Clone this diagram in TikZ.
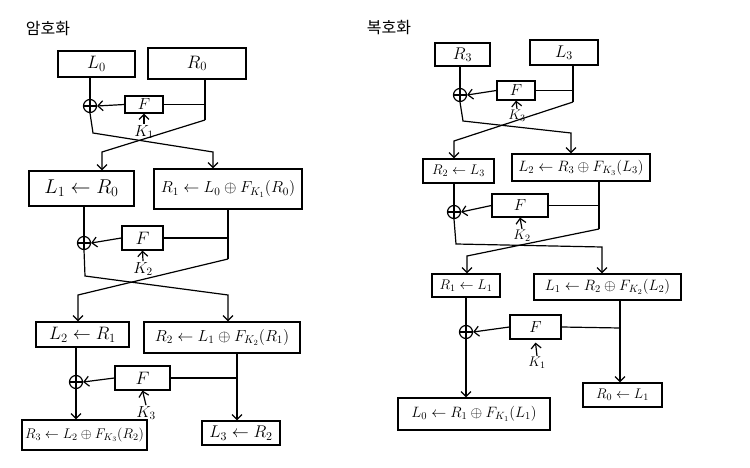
\RequirePackage{fix-cm}
\documentclass[tikz,border=0pt]{standalone}
\usepackage{fontspec}
\newfontfamily\kr{Noto Sans CJK KR}
\usetikzlibrary{arrows.meta}
\tikzset{
  bx/.style={draw, line width=1.2pt, inner sep=0pt, font=\fontsize{15}{17}\selectfont},
  sbx/.style={bx, font=\fontsize{14}{16}\selectfont},
  bgx/.style={bx, font=\fontsize{18}{20}\selectfont},
  fb/.style={draw, line width=1.2pt, inner sep=0pt, font=\fontsize{18}{20}\selectfont},
  sfb/.style={fb, font=\fontsize{16}{18}\selectfont},
  xr/.style={circle, draw, line width=1.2pt, minimum size=13pt, inner sep=0pt,
    path picture={\draw[line width=1.2pt] (path picture bounding box.north) -- (path picture bounding box.south)
      (path picture bounding box.west) -- (path picture bounding box.east);}},
  ln/.style={line width=1.2pt},
  ar/.style={line width=1.2pt, -{Straight Barb[length=5pt,width=10pt]}},
  kl/.style={font=\fontsize{16}{18}\selectfont, inner sep=1pt},
  skl/.style={font=\fontsize{14}{16}\selectfont, inner sep=1pt},
  ttl/.style={font=\kr\fontsize{16}{18}\selectfont, inner sep=0pt}
}
\begin{document}
\begin{tikzpicture}[x=1pt,y=-1pt]
\fill[white] (0,0) rectangle (750,468);
\useasboundingbox (0,0) rectangle (750,468);

% ===== Encryption =====
\node[ttl] (T1) at (48,29) {암호화};
\node[bgx, minimum width=77pt, minimum height=26pt] (L0) at (96.5,64) {$L_0$};
\node[bgx, minimum width=98pt, minimum height=31pt] (R0) at (197,63.5) {$R_0$};

\node[xr] (X1) at (90,106) {};
\node[sfb, minimum width=38pt, minimum height=17pt] (F1) at (144,104.5) {$F$};
\node[kl] (K1) at (144,132) {$K_1$};
\coordinate (r0a) at (205,120);
\draw[ln] (L0.south -| X1) -- (X1.north);
\draw[ln] (R0.south -| r0a) -- (r0a);
\draw[ln] (F1.east) -- (F1.east -| r0a);
\draw[ar] (F1.west) -- (X1.east);
\draw[ar] (K1.north) -- (F1.south);

\node[bx, font=\fontsize{20}{22}\selectfont, minimum width=105pt, minimum height=35pt] (L1) at (81.5,188.5) {$L_1 \leftarrow R_0$};
\node[bx, font=\fontsize{16}{18}\selectfont, minimum width=148pt, minimum height=40pt] (R1) at (228,189) {$R_1 \leftarrow L_0 \oplus F_{K_1}(R_0)$};
\coordinate (c1a) at (93,133);
\coordinate (c1b) at (213,152);
\coordinate (c1c) at (102,152);
\draw[ar] (X1.south) -- (c1a) -- (c1b) -- (c1b |- R1.north);
\draw[ar] (r0a) -- (c1c) -- (c1c |- L1.north);

\node[xr] (X2) at (84,243) {};
\node[fb, minimum width=41pt, minimum height=24pt] (F2) at (142.5,238) {$F$};
\node[kl] (K2) at (143,269) {$K_2$};
\coordinate (r1a) at (228,259);
\draw[ln] (L1.south -| X2) -- (X2.north);
\draw[ln] (R1.south -| r1a) -- (r1a);
\draw[ln] (F2.east) -- (F2.east -| r1a);
\draw[ar] (F2.west) -- (X2.east);
\draw[ar] (K2.north) -- (F2.south);

\node[bgx, minimum width=93pt, minimum height=25pt] (L2) at (82.5,334.5) {$L_2 \leftarrow R_1$};
\node[bx, font=\fontsize{16}{18}\selectfont, minimum width=156pt, minimum height=31pt] (R2) at (222,337.5) {$R_2 \leftarrow L_1 \oplus F_{K_2}(R_1)$};
\coordinate (c2a) at (85,276);
\coordinate (c2b) at (228,295);
\coordinate (c2c) at (78,295);
\draw[ar] (X2.south) -- (c2a) -- (c2b) -- (c2b |- R2.north);
\draw[ar] (r1a) -- (c2c) -- (c2c |- L2.north);

\node[xr] (X3) at (76,382) {};
\node[fb, minimum width=55pt, minimum height=24pt] (F3) at (142.5,378) {$F$};
\node[kl] (K3) at (146,413) {$K_3$};
\node[bx, font=\fontsize{14}{16}\selectfont, minimum width=125pt, minimum height=30pt] (R3) at (84.5,435) {$R_3 \leftarrow L_2 \oplus F_{K_3}(R_2)$};
\node[bx, font=\fontsize{17}{19}\selectfont, minimum width=78pt, minimum height=24pt] (L3) at (241,433) {$L_3 \leftarrow R_2$};
\coordinate (r2x) at (237,378);
\draw[ln] (L2.south -| X3) -- (X3.north);
\draw[ar] (R2.south -| r2x) -- (L3.north -| r2x);
\draw[ln] (F3.east) -- (r2x);
\draw[ar] (F3.west) -- (X3.east);
\draw[ar] (K3.north) -- (F3.south);
\draw[ar] (X3.south) -- (X3.south |- R3.north);

% ===== Decryption =====
\node[ttl] (T2) at (389,28) {복호화};
\node[bx, font=\fontsize{17}{19}\selectfont, minimum width=55pt, minimum height=23pt] (R3r) at (462.5,54.5) {$R_3$};
\node[bx, font=\fontsize{17}{19}\selectfont, minimum width=68pt, minimum height=25pt] (L3r) at (564,52.5) {$L_3$};

\node[xr] (X1r) at (460,95) {};
\node[sfb, minimum width=38pt, minimum height=19pt] (F1r) at (516,90.5) {$F$};
\node[skl] (K3r) at (517,116) {$K_3$};
\coordinate (l3a) at (573,102);
\draw[ln] (R3r.south -| X1r) -- (X1r.north);
\draw[ln] (L3r.south -| l3a) -- (l3a);
\draw[ln] (F1r.east) -- (F1r.east -| l3a);
\draw[ar] (F1r.west) -- (X1r.east);
\draw[ar] (K3r.north) -- (F1r.south);

\node[sbx, minimum width=71pt, minimum height=24pt] (R2r) at (458.5,171) {$R_2 \leftarrow L_3$};
\node[bx, minimum width=138pt, minimum height=27pt] (L2r) at (581,167.5) {$L_2 \leftarrow R_3 \oplus F_{K_3}(L_3)$};
\coordinate (d1a) at (463,121);
\coordinate (d1b) at (571,133);
\coordinate (d1c) at (454,141);
\draw[ar] (X1r.south) -- (d1a) -- (d1b) -- (d1b |- L2r.north);
\draw[ar] (l3a) -- (d1c) -- (d1c |- R2r.north);

\node[xr] (X2r) at (454,212) {};
\node[sfb, minimum width=56pt, minimum height=23pt] (F2r) at (520,205.5) {$F$};
\node[skl] (K2r) at (522,236) {$K_2$};
\coordinate (l2a) at (599,229);
\draw[ln] (R2r.south -| X2r) -- (X2r.north);
\draw[ln] (L2r.south -| l2a) -- (l2a);
\draw[ln] (F2r.east) -- (F2r.east -| l2a);
\draw[ar] (F2r.west) -- (X2r.east);
\draw[ar] (K2r.north) -- (F2r.south);

\node[sbx, minimum width=68pt, minimum height=23pt] (R1r) at (466,285.5) {$R_1 \leftarrow L_1$};
\node[bx, minimum width=147pt, minimum height=26pt] (L1r) at (607.5,287) {$L_1 \leftarrow R_2 \oplus F_{K_2}(L_2)$};
\coordinate (d2a) at (456,244);
\coordinate (d2b) at (602,247);
\coordinate (d2c) at (467,256);
\draw[ar] (X2r.south) -- (d2a) -- (d2b) -- (d2b |- L1r.north);
\draw[ar] (l2a) -- (d2c) -- (d2c |- R1r.north);

\node[xr] (X3r) at (466,332) {};
\node[sfb, minimum width=51pt, minimum height=24pt] (F3r) at (535.5,327) {$F$};
\node[skl] (K1r) at (537,363) {$K_1$};
\node[bx, minimum width=152pt, minimum height=32pt] (L0r) at (474,414) {$L_0 \leftarrow R_1 \oplus F_{K_1}(L_1)$};
\node[sbx, minimum width=79pt, minimum height=24pt] (R0r) at (622.5,395) {$R_0 \leftarrow L_1$};
\coordinate (l1x) at (620,328);
\draw[ln] (R1r.south -| X3r) -- (X3r.north);
\draw[ar] (L1r.south -| l1x) -- (R0r.north -| l1x);
\draw[ln] (F3r.east) -- (l1x);
\draw[ar] (F3r.west) -- (X3r.east);
\draw[ar] (K1r.north) -- ([yshift=-3pt]F3r.south);
\draw[ar] (X3r.south) -- (X3r.south |- L0r.north);
\end{tikzpicture}
\end{document}
